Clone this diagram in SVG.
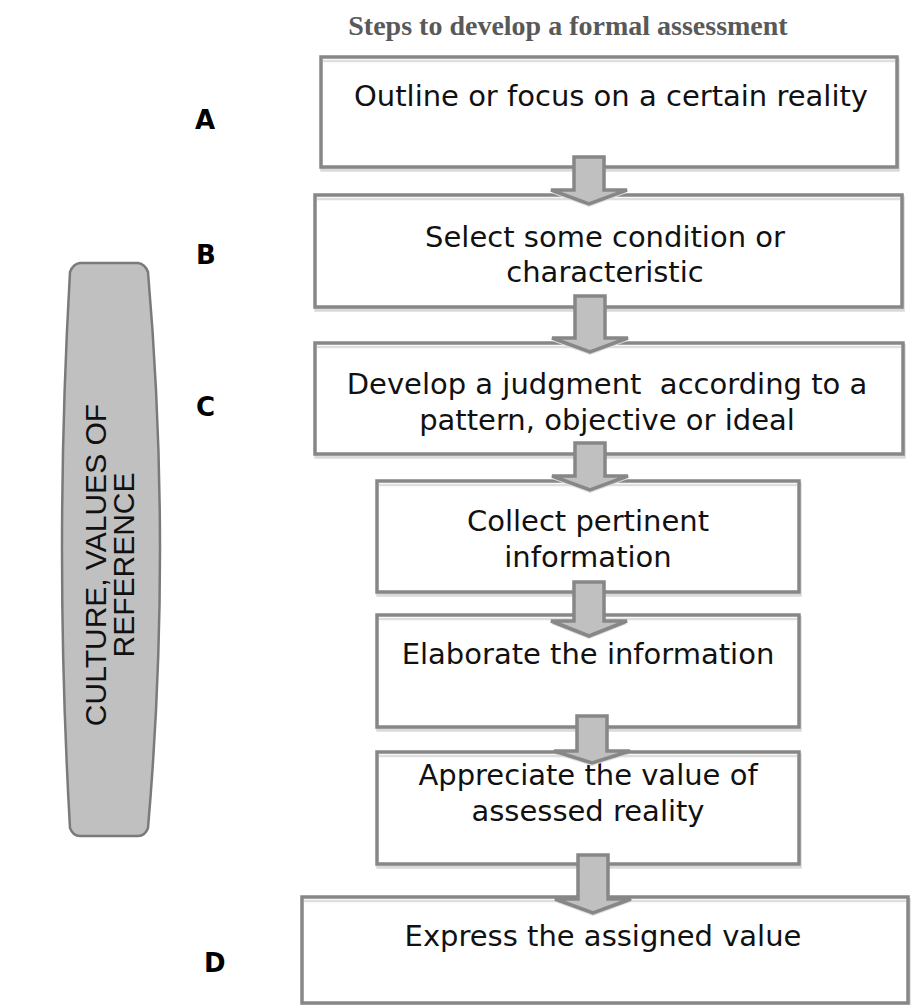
<svg xmlns="http://www.w3.org/2000/svg" width="914" height="1005" viewBox="0 0 914 1005">
<defs>
<style>
.shadow{fill:none;stroke:#dadada;stroke-width:3.5}
.box{fill:#fff;stroke:#878787;stroke-width:3.5}
.inner{stroke:#dedede;stroke-width:2.5}
.t{font-family:"DejaVu Sans","Verdana",sans-serif;font-size:29px;fill:#111;text-anchor:middle}
.lbl{font-family:"DejaVu Sans","Verdana",sans-serif;font-size:26px;font-weight:bold;fill:#000}
.arr{fill:#c0c0c0;stroke:#878787;stroke-width:3.5;stroke-linejoin:miter}
.arrsh{fill:#dcdcdc}
</style>
</defs>
<rect width="914" height="1005" fill="#fff"/>
<text x="568" y="35" font-family="'Liberation Serif','Times New Roman',serif" font-size="28" font-weight="bold" fill="#595959" text-anchor="middle">Steps to develop a formal assessment</text>

<g id="culture">
<path d="M80,263 L138,263 Q145,264 148,272 Q172,550 148,828 Q145,836 138,836 L80,836 Q73,836 70,828 Q54,550 70,272 Q73,264 80,263 Z" fill="#c0c0c0" stroke="#7a7a7a" stroke-width="2.5"/>
<text transform="translate(106,565) rotate(-90)" font-family="'Liberation Sans',Arial,sans-serif" font-size="30" fill="#111" text-anchor="middle">CULTURE, VALUES OF</text>
<text transform="translate(134,565) rotate(-90)" font-family="'Liberation Sans',Arial,sans-serif" font-size="30" fill="#111" text-anchor="middle">REFERENCE</text>
</g>

<g id="labels">
<text class="lbl" x="195" y="129">A</text>
<text class="lbl" x="196" y="264">B</text>
<text class="lbl" x="196" y="416">C</text>
<text class="lbl" x="204" y="972">D</text>
</g>

<g id="stepA">
<rect class="shadow" x="322" y="60" width="576" height="110"/>
<rect class="box" x="321" y="57" width="576" height="110"/>
<line class="inner" x1="323" y1="61" x2="895" y2="61"/>
<text class="t" x="611" y="106">Outline or focus on a certain reality</text>
</g>
<g id="stepB">
<rect class="shadow" x="316" y="198" width="587" height="112"/>
<rect class="box" x="315" y="195" width="587" height="112"/>
<line class="inner" x1="317" y1="199" x2="900" y2="199"/>
<text class="t" x="605" y="247">Select some condition or</text>
<text class="t" x="605" y="282">characteristic</text>
</g>
<g id="stepC">
<rect class="shadow" x="316" y="346" width="588" height="111"/>
<rect class="box" x="315" y="343" width="588" height="111"/>
<line class="inner" x1="317" y1="347" x2="901" y2="347"/>
<text class="t" x="607" y="394" xml:space="preserve">Develop a judgment  according to a</text>
<text class="t" x="607" y="430">pattern, objective or ideal</text>
</g>
<g id="collect">
<rect class="shadow" x="378" y="484" width="422" height="111"/>
<rect class="box" x="377" y="481" width="422" height="111"/>
<line class="inner" x1="379" y1="485" x2="797" y2="485"/>
<text class="t" x="588" y="531">Collect pertinent</text>
<text class="t" x="588" y="567">information</text>
</g>
<g id="elaborate">
<rect class="shadow" x="378" y="618" width="422" height="112"/>
<rect class="box" x="377" y="615" width="422" height="112"/>
<line class="inner" x1="379" y1="619" x2="797" y2="619"/>
<text class="t" x="588" y="664">Elaborate the information</text>
</g>
<g id="appreciate">
<rect class="shadow" x="378" y="755" width="422" height="112"/>
<rect class="box" x="377" y="752" width="422" height="112"/>
<line class="inner" x1="379" y1="756" x2="797" y2="756"/>
<text class="t" x="588" y="785">Appreciate the value of</text>
<text class="t" x="588" y="821">assessed reality</text>
</g>
<g id="stepD">
<rect class="shadow" x="303" y="900" width="606" height="106"/>
<rect class="box" x="302" y="897" width="606" height="106"/>
<line class="inner" x1="304" y1="901" x2="906" y2="901"/>
<text class="t" x="603" y="946">Express the assigned value</text>
</g>

<g id="connectors">
<polygon class="arrsh" points="574,160 604,160 604,193 627,193 589,207 551,193 574,193"/>
<polygon class="arr" points="574,157 604,157 604,190 627,190 589,204 551,190 574,190"/>
<polygon class="arrsh" points="575,299 605,299 605,341 628,341 590,355 552,341 575,341"/>
<polygon class="arr" points="575,296 605,296 605,338 628,338 590,352 552,338 575,338"/>
<polygon class="arrsh" points="575,446 605,446 605,479 628,479 590,493 552,479 575,479"/>
<polygon class="arr" points="575,443 605,443 605,476 628,476 590,490 552,476 575,476"/>
<polygon class="arrsh" points="574,585 604,585 604,624 627,624 589,639 551,624 574,624"/>
<polygon class="arr" points="574,582 604,582 604,621 627,621 589,636 551,621 574,621"/>
<polygon class="arrsh" points="577,719 607,719 607,754 630,754 592,766 554,754 577,754"/>
<polygon class="arr" points="577,716 607,716 607,751 630,751 592,763 554,751 577,751"/>
<polygon class="arrsh" points="578,858 608,858 608,902 631,902 593,916 555,902 578,902"/>
<polygon class="arr" points="578,855 608,855 608,899 631,899 593,913 555,899 578,899"/>
</g>
</svg>
